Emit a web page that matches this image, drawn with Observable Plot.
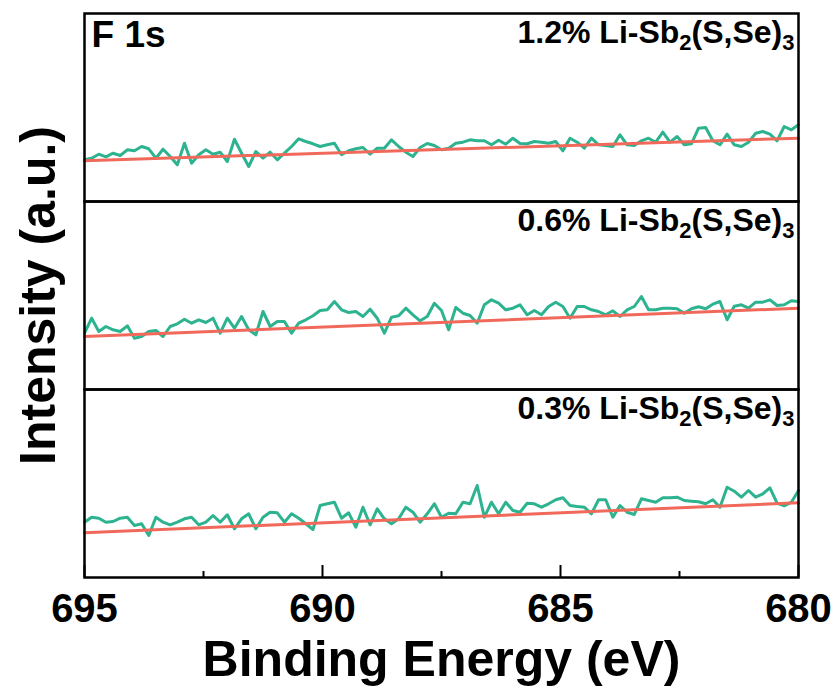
<!DOCTYPE html>
<html><head><meta charset="utf-8">
<script src="https://cdn.jsdelivr.net/npm/d3@7"></script>
<script src="https://cdn.jsdelivr.net/npm/@observablehq/plot@0.6"></script>
<style>body{margin:0;background:#fff} svg{display:block}</style>
</head><body><div id="chart"></div>
<script>
// ---- data ----
const samples = ["1.2%", "0.6%", "0.3%"];
const energyStart = 695, energyStep = 0.15, nPoints = 101; // measurement grid (eV)
const intensity12 = [41.7,43.3,47.3,44.7,48.3,46,51.7,50.7,55,52.7,43.3,52.3,45,36.7,58.3,38.3,46.7,51.7,47.3,49.3,40,62.3,48.3,35,50,43.3,49.3,41.7,48.3,55,62.7,60,57.7,55,56.7,58.3,46.7,50.7,52.7,54,47.3,53.3,53.3,61.7,55,49.3,45,54,58,56,51.7,53.3,58.3,59.3,61.7,60.7,60.7,56.7,61.3,57.3,63.3,58,57.7,60,59.3,58.3,60,50.7,63.3,59.3,53.3,63.3,56.7,56,55,66.7,56.7,56,60.7,63.3,59.3,69.3,59.3,65,56.7,57.7,73.3,74,60.7,56.7,67.3,56.7,55,59.3,68.3,70,67.3,60.7,75,71.7,76.7];
const intensity06 = [56.3,71.3,58,63,59.7,58,63.7,51.3,53,58,59,53,63,65.7,70.3,66.3,69.7,67,71.3,56.3,71.3,61.3,73,59.7,54.7,78,63,68,68,56.3,66.3,69.7,73.7,79,79.7,88,79.7,77,78,73,80.3,71.3,56.3,72.3,73.7,81.3,74.7,68.7,73,86.3,79,59.7,82,76.3,74,66.3,84.7,89.7,86.3,79.7,81.3,84.7,74.7,79,74.7,83,87.3,83,71.3,83,83,79.7,78,74.7,78.7,73,79.7,83,93,79.7,79.7,81.3,81.3,80.7,76.3,80.7,82.7,80.7,85.3,88,69.7,83.3,84.7,81.3,87.3,87.3,89.7,84,84.7,88.7,88];
const intensity03 = [55.3,60.3,59.3,55.3,56,59.3,60.3,52,53.7,42,60.3,55.3,52.7,55.3,58.7,60.3,52.7,55.3,62,55.3,62.7,48.7,58.7,63.7,48.7,60.3,65.3,64.7,55.3,63.7,59.3,53.7,48,72,73.7,75.3,59.3,64.7,50.3,70.3,52.7,68.7,58.7,53.7,58.7,70.3,65.3,55.3,63.7,73.7,60.3,64.3,63.7,75.3,73.7,92,60.3,75.3,63.7,75.3,67,65.3,74.3,73.7,70.3,73.7,77.7,79.7,72,71,70.3,63.7,77.7,77.7,60.3,72,65.3,63,78.7,77,75.3,79.7,79.7,80.3,77,76.3,75.7,73.7,77.7,70.3,90.3,86.3,80.3,87,80.3,83.7,89.7,74.3,71.7,75.3,87];
const baselineEnergy = [695, 680];
const baseline12 = [40.7, 63.3];
const baseline06 = [53, 81.3];
const baseline03 = [44.7, 74.7];
const majorTicks = [695, 690, 685, 680];
const minorTicks = [692.5, 687.5, 682.5];
const panelTitle = "F 1s";
const xTitle = "Binding Energy (eV)";
const yTitle = "Intensity (a.u.)";

// ---- tables ----
const energies = d3.range(nPoints).map(i => +(energyStart - energyStep * i).toFixed(2));
const seriesBy = {"1.2%": intensity12, "0.6%": intensity06, "0.3%": intensity03};
const baseBy = {"1.2%": baseline12, "0.6%": baseline06, "0.3%": baseline03};
const spectra = samples.flatMap(s => seriesBy[s].map((v, i) => ({sample: s, energy: energies[i], intensity: v})));
const baselines = samples.flatMap(s => baselineEnergy.map((e, i) => ({sample: s, energy: e, intensity: baseBy[s][i]})));

const font = "'Liberation Sans', Arial, Helvetica, sans-serif";
const plot = Plot.plot({
  width: 838, height: 688,
  marginLeft: 84, marginRight: 40, marginTop: 12, marginBottom: 111,
  style: {fontFamily: font, background: "#fff", color: "#000"},
  x: {domain: [695, 680], label: null},
  y: {domain: [0, 188], axis: null},
  fy: {domain: samples, padding: 0, axis: null},
  marks: [
    Plot.line(spectra, {x: "energy", y: "intensity", fy: "sample", stroke: "#2db38f", strokeWidth: 3}),
    Plot.line(baselines, {x: "energy", y: "intensity", fy: "sample", stroke: "#f0695b", strokeWidth: 3}),
    Plot.frame({stroke: "#000", strokeWidth: 2.5}),
    Plot.axisX(majorTicks, {tickSize: 0, tickPadding: 16, fontSize: 40, fontWeight: "bold", label: null}),
    Plot.axisX(majorTicks, {tickSize: -12, strokeWidth: 2, tickFormat: () => "", label: null}),
    Plot.axisX(minorTicks, {tickSize: -6, strokeWidth: 2, tickFormat: () => "", label: null}),
    Plot.text(samples, {fy: d => d, text: d => `${d} Li-Sb2(S,Se)3`, frameAnchor: "top-right", textAnchor: "end", lineAnchor: "top", dx: -4, dy: 7, fontSize: 32, fontWeight: "bold"}),
    Plot.text([panelTitle], {fy: [samples[0]], frameAnchor: "top-left", textAnchor: "start", lineAnchor: "top", dx: 7, dy: 7, fontSize: 37, fontWeight: "bold"}),
    Plot.text([yTitle], {fy: [samples[1]], frameAnchor: "left", textAnchor: "middle", lineAnchor: "middle", rotate: -90, dx: -46, fontSize: 50, fontWeight: "bold"}),
    Plot.text([xTitle], {fy: [samples[2]], frameAnchor: "bottom", textAnchor: "middle", lineAnchor: "bottom", dy: 98, fontSize: 50, fontWeight: "bold"})
  ]
});

// subscripts in the sample labels
const NS = "http://www.w3.org/2000/svg";
plot.querySelectorAll("text").forEach(t => {
  const m = t.textContent.match(/^(.*Sb)2(\(S,Se\))3$/);
  if (!m) return;
  t.textContent = "";
  const parts = [[m[1], null, 0], ["2", 22, 7], [m[2], null, -7], ["3", 22, 7]];
  parts.forEach(([str, size, dy]) => {
    const ts = document.createElementNS(NS, "tspan");
    ts.textContent = str;
    if (size) ts.setAttribute("font-size", size);
    if (dy) ts.setAttribute("dy", dy);
    t.appendChild(ts);
  });
});

document.getElementById("chart").appendChild(plot);
</script>
</body></html>
